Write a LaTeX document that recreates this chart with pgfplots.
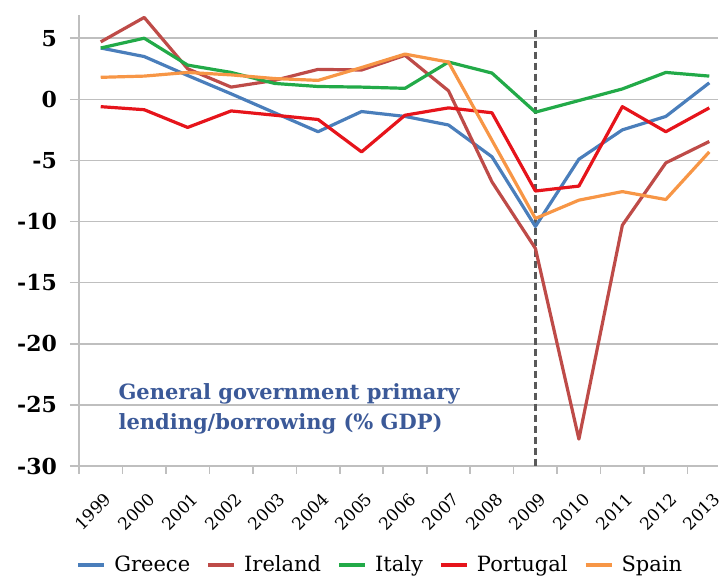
\documentclass[border=0pt]{standalone}
\usepackage{pgfplots}
\pgfplotsset{compat=1.18}
\usepackage{fontspec}
\setmainfont{DejaVu Serif}
\definecolor{cGreece}{RGB}{74,126,187}
\definecolor{cIreland}{RGB}{190,75,72}
\definecolor{cItaly}{RGB}{34,170,72}
\definecolor{cPortugal}{RGB}{230,20,27}
\definecolor{cSpain}{RGB}{247,150,70}
\definecolor{cGrid}{RGB}{191,191,191}
\definecolor{cNote}{RGB}{59,89,152}
\begin{document}
\begin{tikzpicture}
\path[use as bounding box] (-39.5pt,-56pt) rectangle (320.5pt,233pt);
\begin{axis}[
  at={(0,0)}, anchor=south west,
  scale only axis, width=319.5pt, height=225.5pt,
  xmin=-0.5, xmax=14.2, ymin=-30, ymax=6.9,
  axis x line*=bottom, axis y line*=left,
  axis line style={cGrid, line width=0.8pt, -},
  xtick={0,...,14},
  xticklabels={1999,2000,2001,2002,2003,2004,2005,2006,2007,2008,2009,2010,2011,2012,2013},
  major x tick style={draw=none},
  minor xtick={-0.5,0.5,...,13.5},
  minor x tick style={cGrid, line width=0.8pt},
  minor tick length=4pt,
  xticklabel style={font=\fontsize{8.5}{10}\selectfont, inner sep=0pt, xshift=1.5pt, yshift=-8pt, rotate=45, anchor=north east},
  ytick={-30,-25,...,5},
  yticklabels={-30,-25,-20,-15,-10,-5,0,5},
  yticklabel style={font=\fontsize{11}{13}\selectfont\bfseries, xshift=-3pt},
  major y tick style={cGrid, line width=0.8pt},
  major tick length=4.5pt,
  tick align=outside,
  ymajorgrids, grid style={cGrid, line width=0.8pt},
  clip=false,
  legend columns=5,
  legend style={at={(0.473,-0.219)}, anchor=center, draw=none, fill=none,
    font=\fontsize{10.5}{12}\selectfont, column sep=2pt, inner sep=0pt,
    /tikz/every even column/.append style={column sep=6pt}},
  legend image code/.code={\draw[#1, line width=2pt] (0pt,0pt) -- (13pt,0pt);},
  every axis plot/.append style={line width=1.6pt, line join=round},
]
\addplot[black!65, dash pattern=on 3.5pt off 2pt, line width=1.1pt, forget plot] coordinates {(10,5.7) (10,-30)};
\addplot[cGreece] coordinates {(0,4.2) (1,3.5) (2,1.95) (3,0.45) (4,-1.1) (5,-2.65) (6,-1.0) (7,-1.4) (8,-2.1) (9,-4.7) (10,-10.4) (11,-4.9) (12,-2.5) (13,-1.4) (14,1.35)};
\addlegendentry{Greece}
\addplot[cIreland] coordinates {(0,4.7) (1,6.7) (2,2.5) (3,1.0) (4,1.55) (5,2.45) (6,2.4) (7,3.6) (8,0.7) (9,-6.75) (10,-12.2) (11,-27.8) (12,-10.3) (13,-5.2) (14,-3.45)};
\addlegendentry{Ireland}
\addplot[cItaly] coordinates {(0,4.2) (1,5.0) (2,2.8) (3,2.2) (4,1.3) (5,1.05) (6,1.0) (7,0.9) (8,3.05) (9,2.15) (10,-1.05) (11,-0.1) (12,0.85) (13,2.2) (14,1.9)};
\addlegendentry{Italy}
\addplot[cPortugal] coordinates {(0,-0.6) (1,-0.85) (2,-2.3) (3,-0.95) (4,-1.3) (5,-1.65) (6,-4.3) (7,-1.3) (8,-0.7) (9,-1.1) (10,-7.5) (11,-7.1) (12,-0.6) (13,-2.65) (14,-0.7)};
\addlegendentry{Portugal}
\addplot[cSpain] coordinates {(0,1.8) (1,1.9) (2,2.2) (3,2.0) (4,1.7) (5,1.55) (6,2.6) (7,3.7) (8,3.05) (9,-3.35) (10,-9.75) (11,-8.25) (12,-7.55) (13,-8.2) (14,-4.3)};
\addlegendentry{Spain}
\node[anchor=west, align=left, text=cNote, font=\fontsize{10.5}{15}\selectfont\bfseries, inner sep=0pt] at (axis cs:0.4,-25.3) {General government primary\\lending/borrowing (\% GDP)};
\end{axis}
\end{tikzpicture}
\end{document}
